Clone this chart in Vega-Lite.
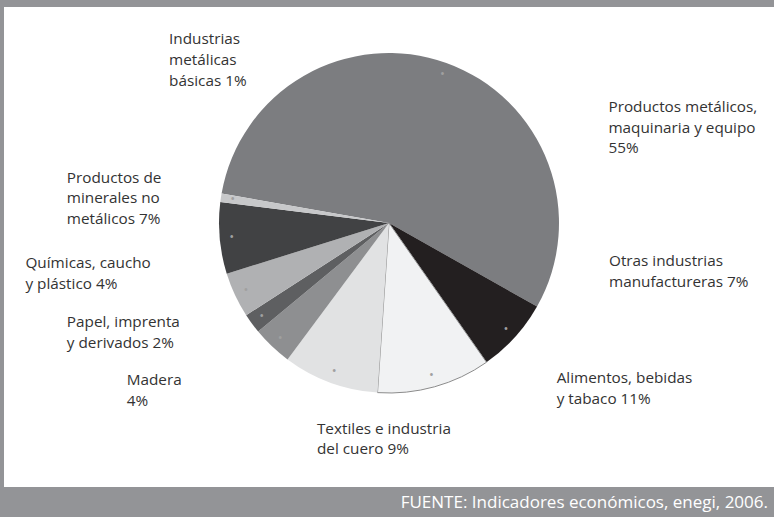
{
  "$schema": "https://vega.github.io/schema/vega-lite/v6.json",
  "width": 770,
  "height": 480,
  "autosize": "none",
  "padding": {"left": 4, "top": 7, "right": 0, "bottom": 30},
  "background": "#939497",
  "config": {
    "view": {"stroke": null},
    "text": {"font": "Open Sans", "fontSize": 15.3, "color": "#333333", "lineHeight": 20.7, "align": "left", "baseline": "alphabetic", "lineBreak": "\n"}
  },
  "title": {
    "text": "FUENTE: Indicadores económicos, enegi, 2006.",
    "orient": "bottom",
    "anchor": "end",
    "color": "#ffffff",
    "font": "Open Sans",
    "fontSize": 17,
    "fontWeight": "normal",
    "baseline": "alphabetic",
    "offset": 21,
    "dx": -6
  },
  "layer": [
    {
      "data": {"values": [{"fondo": "blanco"}]},
      "mark": {"type": "rect", "color": "#ffffff"}
    },
    {
      "data": {
        "values": [
          {"sector": "Productos metálicos, maquinaria y equipo", "valor": 55.4, "etiqueta": "Productos metálicos,\nmaquinaria y equipo\n55%"},
          {"sector": "Otras industrias manufactureras", "valor": 7.1, "etiqueta": "Otras industrias\nmanufactureras 7%"},
          {"sector": "Alimentos, bebidas y tabaco", "valor": 10.8, "etiqueta": "Alimentos, bebidas\ny tabaco 11%"},
          {"sector": "Textiles e industria del cuero", "valor": 9.1, "etiqueta": "Textiles e industria\ndel cuero 9%"},
          {"sector": "Madera", "valor": 3.8, "etiqueta": "Madera\n4%"},
          {"sector": "Papel, imprenta y derivados", "valor": 1.9, "etiqueta": "Papel, imprenta\ny derivados 2%"},
          {"sector": "Químicas, caucho y plástico", "valor": 4.3, "etiqueta": "Químicas, caucho\ny plástico 4%"},
          {"sector": "Productos de minerales no metálicos", "valor": 6.8, "etiqueta": "Productos de\nminerales no\nmetálicos 7%"},
          {"sector": "Industrias metálicas básicas", "valor": 0.8, "etiqueta": "Industrias\nmetálicas\nbásicas 1%"}
        ]
      },
      "transform": [{"window": [{"op": "row_number", "as": "orden"}]}],
      "encoding": {
        "theta": {"field": "valor", "type": "quantitative", "stack": true, "scale": {"range": [4.88692, 11.17011]}},
        "order": {"field": "orden", "type": "quantitative"}
      },
      "layer": [
        {
          "mark": {"type": "arc", "outerRadius": 170, "y": {"expr": "height * 0.45"}, "stroke": "#8c8c8c"},
          "encoding": {
            "color": {
              "field": "sector",
              "type": "nominal",
              "legend": null,
              "scale": {
                "domain": ["Productos metálicos, maquinaria y equipo", "Otras industrias manufactureras", "Alimentos, bebidas y tabaco", "Textiles e industria del cuero", "Madera", "Papel, imprenta y derivados", "Químicas, caucho y plástico", "Productos de minerales no metálicos", "Industrias metálicas básicas"],
                "range": ["#7c7d80", "#231f20", "#f1f2f3", "#e1e2e3", "#8e8f91", "#5e5f61", "#b0b1b3", "#414244", "#c7c8ca"]
              }
            },
            "strokeWidth": {"condition": {"test": "datum.orden == 3", "value": 1}, "value": 0}
          }
        },
        {
          "mark": {"type": "text", "text": "•", "radius": 158, "fontSize": 13, "color": "#a0a0a0", "align": "center", "baseline": "middle", "y": {"expr": "height * 0.45"}},
          "encoding": {"detail": {"field": "sector", "type": "nominal"}}
        },
        {
          "mark": {"type": "text", "radius": 185, "dx": 157, "dy": 63, "y": {"expr": "height * 0.45"}},
          "encoding": {"detail": {"field": "sector", "type": "nominal"}, "text": {"condition": {"test": "datum.orden == 1", "field": "etiqueta"}, "value": ""}}
        },
        {
          "mark": {"type": "text", "radius": 185, "dx": 83, "dy": -81, "y": {"expr": "height * 0.45"}},
          "encoding": {"detail": {"field": "sector", "type": "nominal"}, "text": {"condition": {"test": "datum.orden == 2", "field": "etiqueta"}, "value": ""}}
        },
        {
          "mark": {"type": "text", "radius": 185, "dx": 118, "dy": -18, "y": {"expr": "height * 0.45"}},
          "encoding": {"detail": {"field": "sector", "type": "nominal"}, "text": {"condition": {"test": "datum.orden == 3", "field": "etiqueta"}, "value": ""}}
        },
        {
          "mark": {"type": "text", "radius": 185, "dx": -8, "dy": 37, "y": {"expr": "height * 0.45"}},
          "encoding": {"detail": {"field": "sector", "type": "nominal"}, "text": {"condition": {"test": "datum.orden == 4", "field": "etiqueta"}, "value": ""}}
        },
        {
          "mark": {"type": "text", "radius": 185, "dx": -135, "dy": 28, "y": {"expr": "height * 0.45"}},
          "encoding": {"detail": {"field": "sector", "type": "nominal"}, "text": {"condition": {"test": "datum.orden == 5", "field": "etiqueta"}, "value": ""}}
        },
        {
          "mark": {"type": "text", "radius": 185, "dx": -173, "dy": -5, "y": {"expr": "height * 0.45"}},
          "encoding": {"detail": {"field": "sector", "type": "nominal"}, "text": {"condition": {"test": "datum.orden == 6", "field": "etiqueta"}, "value": ""}}
        },
        {
          "mark": {"type": "text", "radius": 185, "dx": -196, "dy": -33, "y": {"expr": "height * 0.45"}},
          "encoding": {"detail": {"field": "sector", "type": "nominal"}, "text": {"condition": {"test": "datum.orden == 7", "field": "etiqueta"}, "value": ""}}
        },
        {
          "mark": {"type": "text", "radius": 185, "dx": -138, "dy": -57, "y": {"expr": "height * 0.45"}},
          "encoding": {"detail": {"field": "sector", "type": "nominal"}, "text": {"condition": {"test": "datum.orden == 8", "field": "etiqueta"}, "value": ""}}
        },
        {
          "mark": {"type": "text", "radius": 185, "dx": -37, "dy": -151, "y": {"expr": "height * 0.45"}},
          "encoding": {"detail": {"field": "sector", "type": "nominal"}, "text": {"condition": {"test": "datum.orden == 9", "field": "etiqueta"}, "value": ""}}
        }
      ]
    }
  ]
}
